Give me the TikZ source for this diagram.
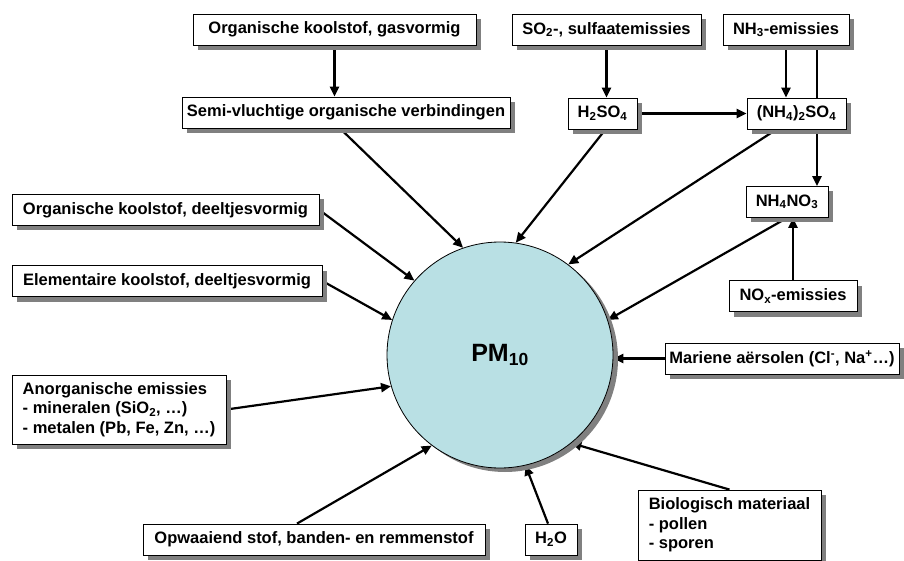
\documentclass[tikz,border=0pt]{standalone}
\usepackage{fontspec}
\setmainfont{Liberation Sans}
\usetikzlibrary{arrows.meta,shadows,backgrounds}
\definecolor{pmblue}{RGB}{185,224,228}

\begin{document}
\begin{tikzpicture}[x=1pt,y=-1pt,
  box/.style={draw,line width=0.8pt,fill=white,
    font=\fontsize{16.5}{19.5}\selectfont\bfseries,
    minimum height=31pt,inner sep=0pt,
    drop shadow={shadow xshift=5pt,shadow yshift=-5pt,fill=black!50,opacity=1}},
  listbox/.style={box,align=left},
  feed/.style={line width=2.2pt,-{Triangle[length=10pt,width=9pt]}}]
\useasboundingbox (0,0) rectangle (904,561);

\node[box,minimum width=283pt] (gas) at (334.5,29.5) {Organische koolstof, gasvormig};
\node[box,minimum width=328pt] (semi) at (346,112.5) {Semi-vluchtige organische verbindingen};
\node[box,minimum width=189pt] (so2) at (606.5,29.5) {SO\textsubscript{2}-, sulfaatemissies};
\node[box,minimum width=126pt] (nh3) at (786,29.5) {NH\textsubscript{3}-emissies};
\node[box,minimum width=69pt] (h2so4) at (602.5,113.5) {H\textsubscript{2}SO\textsubscript{4}};
\node[box,minimum width=99pt] (nh4so4) at (796.5,113.5) {(NH\textsubscript{4})\textsubscript{2}SO\textsubscript{4}};
\node[box,minimum width=82pt] (nh4no3) at (787,202) {NH\textsubscript{4}NO\textsubscript{3}};
\node[box,minimum width=128pt] (nox) at (793,296) {NO\textsubscript{x}-emissies};
\node[box,minimum width=307pt] (orgdeel) at (165.5,210) {Organische koolstof, deeltjesvormig};
\node[box,minimum width=310pt] (elem) at (167,281) {Elementaire koolstof, deeltjesvormig};
\node[listbox,minimum width=214pt,minimum height=69pt] (anorg) at (119,409.5) {Anorganische emissies\\
- mineralen (SiO\textsubscript{2}, …)\\
- metalen (Pb, Fe, Zn, …)};
\node[box,minimum width=234pt] (mar) at (782,358.5) {Mariene aërsolen (Cl\textsuperscript{-}, Na\textsuperscript{+}…)};
\node[box,minimum width=342pt] (opw) at (314,539.5) {Opwaaiend stof, banden- en remmenstof};
\node[box,minimum width=52pt] (h2o) at (551,539.5) {H\textsubscript{2}O};
\node[listbox,minimum width=183pt,minimum height=70pt] (bio) at (729.5,525) {Biologisch materiaal\\
- pollen\\
- sporen};

\node[circle,draw,line width=0.8pt,fill=pmblue,minimum size=226pt,inner sep=0pt,
  drop shadow={shadow xshift=5pt,shadow yshift=-4pt,fill=black!50,opacity=1},
  font=\fontsize{25}{30}\selectfont\bfseries] (pm) at (500,355) {PM\textsubscript{10}};

\begin{scope}[on background layer]
\draw[feed] (gas.south) -- (gas.south |- semi.north);
\draw[feed] (so2.south) -- (so2.south |- h2so4.north);
\draw[feed] (nh3.south) -- (nh3.south |- nh4so4.north);
\draw[feed] ([xshift=31pt]nh3.south) -- ([xshift=31pt]nh3.south |- nh4no3.north);
\draw[feed] (h2so4.east) -- (nh4so4.west);
\draw[feed] (nox.north) -- (nox.north |- nh4no3.south);
\draw[feed] ([xshift=-6pt]semi.south) -- (pm.109);
\draw[feed] ([xshift=3pt]h2so4.south) -- (pm.82);
\draw[feed] ([xshift=-20pt]nh4so4.south) -- (pm.53);
\draw[feed] (nh4no3.south) -- (pm.18);
\draw[feed] (orgdeel.east) -- (pm.139);
\draw[feed] (elem.east) -- (pm.162);
\draw[feed] (anorg.east) -- (pm.196);
\draw[feed] (mar.west) -- (mar.west -| pm.east);
\draw[feed] ([xshift=-17pt]opw.north) -- (pm.233);
\draw[feed] ([xshift=-3pt]h2o.north) -- (pm.283);
\draw[feed] (bio.north) -- (pm.309);
\end{scope}
\end{tikzpicture}
\end{document}
